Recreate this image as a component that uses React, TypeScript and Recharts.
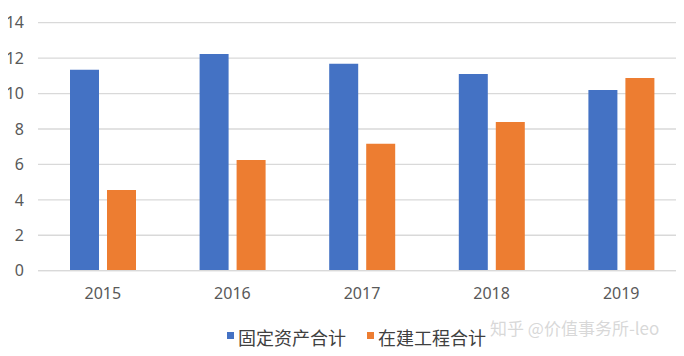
import React from 'react';
import { BarChart, Bar, XAxis, YAxis, CartesianGrid, Legend } from 'recharts';

const years = ['2015', '2016', '2017', '2018', '2019'];
const fixedAssets = [11.34, 12.24, 11.68, 11.11, 10.2];
const construction = [4.56, 6.25, 7.16, 8.4, 10.88];
const yTicks = [0, 2, 4, 6, 8, 10, 12, 14];

const BLUE = '#4472c4';
const ORANGE = '#ed7d31';
const CJK = '"Noto Sans CJK SC", "Noto Sans", sans-serif';

const data = years.map((year, i) => ({
  year,
  fixed: fixedAssets[i],
  build: construction[i],
}));

const LegendContent = () => {
  const items = [
    { label: '固定资产合计', color: BLUE },
    { label: '在建工程合计', color: ORANGE },
  ];
  return (
    <div style={{ display: 'flex', alignItems: 'center', fontFamily: CJK, fontSize: 18, color: '#404040' }}>
      {items.map((it, i) => (
        <div key={it.label} style={{ display: 'flex', alignItems: 'center', marginRight: i === 0 ? 21 : 0 }}>
          <span style={{ width: 7, height: 7, background: it.color, marginRight: 4, display: 'inline-block', position: 'relative', top: -2 }} />
          <span style={{ lineHeight: '22px' }}>{it.label}</span>
        </div>
      ))}
    </div>
  );
};

const App: React.FC = () => {
  return (
    <div style={{ position: 'relative', width: 684, height: 356, margin: -8, overflow: 'hidden', background: '#fff' }}>
      <BarChart
        width={700}
        height={356}
        data={data}
        margin={{ top: 22.7, right: 14, bottom: 33.3, left: 8 }}
        barGap={8}
        barCategoryGap={32}
      >
        <CartesianGrid vertical={false} stroke="#d9d9d9" strokeWidth={1.3} />
        <XAxis
          dataKey="year"
          height={30}
          tickLine={false}
          tickSize={0}
          tickMargin={17}
          axisLine={{ stroke: '#d9d9d9', strokeWidth: 1.3 }}
          tick={{ fontSize: 16, fill: '#595959', fontFamily: '"Noto Sans", sans-serif' }}
        />
        <YAxis
          width={30}
          domain={[0, 14]}
          ticks={yTicks}
          tickLine={false}
          tickSize={0}
          tickMargin={14}
          axisLine={false}
          tick={{ fontSize: 16, fill: '#595959', fontFamily: '"Noto Sans", sans-serif' }}
        />
        <Legend
          content={<LegendContent />}
          verticalAlign="bottom"
          wrapperStyle={{ top: 326, left: 227, width: 'auto', height: 22 }}
        />
        <Bar dataKey="fixed" name="固定资产合计" fill={BLUE} isAnimationActive={false} />
        <Bar dataKey="build" name="在建工程合计" fill={ORANGE} isAnimationActive={false} />
      </BarChart>
      {/* watermark, nudged right so it clears the legend */}
      <div
        style={{
          position: 'absolute',
          left: 490,
          top: 315,
          fontFamily: CJK,
          fontSize: 17,
          color: 'rgba(190,190,190,0.6)',
          whiteSpace: 'nowrap',
          pointerEvents: 'none',
        }}
      >
        知乎 @价值事务所-leo
      </div>
    </div>
  );
};

export default App;
